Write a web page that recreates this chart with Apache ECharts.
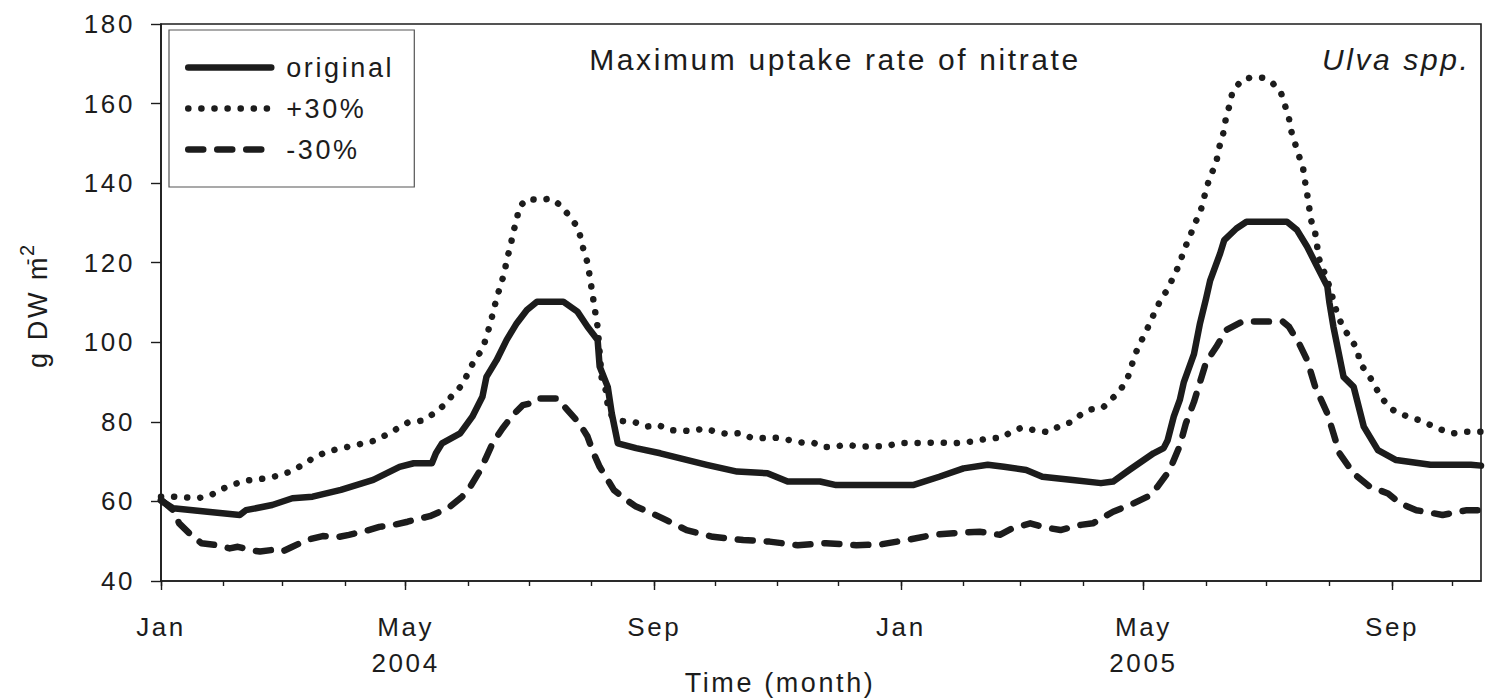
<!DOCTYPE html>
<html>
<head>
<meta charset="utf-8">
<script src="https://cdn.jsdelivr.net/npm/echarts@6/dist/echarts.min.js"></script>
<style>
  html, body { margin: 0; padding: 0; background: #ffffff; }
  #chart { width: 1486px; height: 698px; letter-spacing: 2.6px; }
</style>
</head>
<body>
<div id="chart"></div>
<script>
// Simulated Ulva biomass (g DW m^-2); x values are days counted from 1 Jan 2004 (day 0).
const originalDays = [0, 6, 23, 39, 42, 55, 65, 75, 89, 105, 118, 125, 134, 136, 139, 148, 154, 159, 161, 166,
  171, 176, 181, 186, 199, 206, 211, 216, 217, 221, 223, 226, 235, 247, 257, 270, 285, 300, 310, 326,
  334, 359, 372, 385, 397, 409, 417, 428, 436, 451, 465, 471, 479, 491, 496, 498, 501, 504, 506, 511,
  514, 517, 519, 524, 526, 532, 537, 557, 562, 567, 572, 577, 578, 580, 585, 590, 595, 602, 611, 628,
  648, 653];
const originalValues = [60.2, 58.3, 57.4, 56.6, 57.8, 59.1, 60.8, 61.2, 62.9, 65.4, 68.7, 69.6, 69.6, 72.1, 74.6, 77.1, 81.3, 86.3, 91.3, 95.5,
  100.6, 104.8, 108.1, 110.2, 110.2, 107.7, 103.9, 100.6, 93.9, 88.8, 82.1, 74.6, 73.4, 72.1, 70.8, 69.2, 67.5, 67.1, 65.0, 65.0,
  64.1, 64.1, 64.1, 66.2, 68.3, 69.2, 68.7, 67.9, 66.2, 65.4, 64.6, 65.0, 67.9, 72.1, 73.4, 75.4, 81.3, 85.5, 90.0, 97.0,
  104.8, 111.0, 115.5, 122.4, 125.7, 128.6, 130.3, 130.3, 128.2, 124.0, 119.0, 114.0, 110.0, 103.9, 91.3, 88.8, 78.8, 72.9, 70.4, 69.2,
  69.2, 69.0];

const plus30Days = [0, 6, 18, 24, 30, 41, 52, 59, 65, 70, 75, 82, 94, 106, 112, 122, 129, 135, 140, 144,
  149, 152, 155, 159, 161, 163, 166, 168, 170, 171, 173, 174, 176, 177, 181, 187, 193, 198, 202, 206,
  208, 209, 211, 212, 213, 214, 215, 216, 218, 220, 221, 223, 228, 234, 240, 246, 252, 263, 269, 275,
  281, 287, 292, 299, 305, 311, 317, 323, 327, 333, 339, 346, 352, 359, 365, 371, 377, 385, 391, 398,
  404, 409, 416, 420, 426, 432, 439, 444, 450, 455, 460, 466, 470, 474, 478, 480, 482, 485, 488, 491,
  494, 498, 501, 504, 506, 509, 511, 514, 517, 519, 522, 523, 525, 526, 527, 529, 530, 535, 540, 545,
  550, 554, 556, 558, 559, 561, 563, 565, 566, 567, 568, 569, 571, 572, 573, 575, 577, 579, 582, 585,
  589, 592, 593, 597, 600, 603, 607, 611, 616, 622, 628, 634, 639, 646, 653];
const plus30Values = [61.2, 61.2, 60.8, 61.4, 63.1, 65.2, 65.8, 66.6, 67.7, 69.2, 70.8, 72.5, 73.9, 75.3, 76.9, 79.8, 80.3, 82.1, 84.2, 86.6,
  89.3, 92.4, 95.5, 98.2, 101.4, 104.9, 111.0, 114.4, 117.6, 120.8, 124.2, 127.4, 130.6, 133.9, 136.0, 135.8, 136.1, 134.3, 131.7, 129.0,
  125.7, 123.2, 120.0, 116.9, 113.6, 110.3, 107.0, 103.9, 91.0, 88.0, 84.2, 81.5, 80.2, 80.0, 78.8, 79.2, 77.9, 77.7, 78.4, 77.4,
  76.9, 77.2, 76.0, 75.9, 76.0, 75.4, 74.8, 74.7, 73.7, 73.7, 74.3, 73.7, 73.9, 73.9, 74.7, 74.7, 74.7, 74.8, 74.6, 74.8,
  75.3, 75.8, 76.0, 77.3, 78.6, 77.9, 77.4, 78.8, 79.9, 81.8, 83.1, 83.6, 85.6, 87.6, 90.7, 93.9, 97.1, 100.4, 103.5, 106.9,
  110.1, 113.4, 116.6, 119.8, 123.2, 126.5, 129.5, 132.4, 138.3, 141.8, 144.8, 148.3, 151.3, 153.8, 157.0, 160.1, 163.0, 166.1, 166.6, 166.5,
  165.1, 162.8, 159.6, 156.3, 153.3, 150.0, 146.8, 143.7, 140.3, 137.3, 133.9, 130.6, 127.4, 124.0, 120.8, 118.2, 115.6, 112.3, 106.9, 103.5,
  100.6, 98.0, 94.7, 92.2, 89.5, 86.7, 84.0, 82.4, 81.5, 80.5, 79.2, 77.9, 77.1, 77.5, 77.5];

const minus30Days = [0, 6, 9, 14, 20, 28, 34, 38, 44, 49, 55, 60, 65, 72, 80, 87, 93, 100, 108, 115,
  122, 128, 133, 138, 143, 149, 153, 158, 161, 164, 169, 174, 179, 183, 186, 196, 201, 207, 211, 214,
  217, 221, 224, 229, 235, 243, 250, 260, 273, 288, 301, 315, 329, 344, 356, 369, 382, 392, 405, 415,
  421, 430, 437, 445, 455, 461, 471, 481, 488, 493, 499, 504, 507, 511, 514, 517, 522, 527, 535, 555,
  558, 563, 567, 571, 577, 580, 583, 590, 598, 607, 613, 621, 634, 646, 653];
const minus30Values = [60.4, 57.8, 54.5, 52.0, 49.5, 49.0, 48.2, 48.6, 47.8, 47.4, 47.8, 47.4, 48.6, 50.3, 51.3, 51.0, 51.6, 52.4, 53.6, 54.1,
  54.9, 55.7, 56.3, 57.4, 58.7, 61.2, 63.7, 67.9, 71.2, 74.6, 78.4, 81.7, 84.2, 84.7, 85.9, 85.9, 83.0, 79.6, 76.3, 72.1,
  68.7, 65.4, 62.9, 60.8, 58.7, 57.0, 55.3, 52.8, 51.1, 50.3, 49.9, 49.0, 49.5, 49.0, 49.2, 50.3, 51.6, 52.0, 52.4, 51.6,
  53.2, 54.5, 53.5, 52.8, 54.1, 54.5, 57.4, 59.5, 61.2, 63.7, 67.9, 74.0, 79.6, 85.0, 90.0, 95.0, 98.8, 103.1, 105.2, 105.2,
  103.9, 99.7, 95.5, 88.8, 82.1, 77.1, 72.1, 67.0, 63.7, 62.0, 59.5, 57.8, 56.6, 57.8, 57.8];

const seriesNames = ['original', '+30%', '-30%'];
const monthNames = ['Jan', 'Feb', 'Mar', 'Apr', 'May', 'Jun', 'Jul', 'Aug', 'Sep', 'Oct', 'Nov', 'Dec'];
const labeledMonths = ['Jan', 'May', 'Sep'];
const yearLabelMonth = 'May';
const yTicks = [40, 60, 80, 100, 120, 140, 160, 180];

const chartTitle = 'Maximum uptake rate of nitrate';
const speciesLabel = 'Ulva spp.';

const START = new Date(2004, 0, 1);
const END = new Date(2005, 9, 15);
const dayToTime = d => new Date(2004, 0, 1 + d).getTime();
const pairs = (days, vals) => days.map((d, i) => [dayToTime(d), vals[i]]);

// first day of every month in the plotted span
const monthStarts = [];
for (let y = 2004; y <= 2005; y++) {
  for (let m = 0; m < 12; m++) {
    const t = new Date(y, m, 1).getTime();
    if (t <= END.getTime()) monthStarts.push(t);
  }
}
const labeledStarts = monthStarts.filter(t => labeledMonths.includes(monthNames[new Date(t).getMonth()]));

const INK = '#1c1c1c';
const FONT = '"Liberation Sans", Arial, Helvetica, sans-serif';

const chart = echarts.init(document.getElementById('chart'), null, { renderer: 'svg' });

// timestamps on a numeric axis so month ticks can be placed exactly
const baseX = {
  type: 'value',
  min: START.getTime(),
  max: END.getTime(),
  scale: true,
  position: 'bottom',
  splitLine: { show: false }
};

chart.setOption({
  animation: false,
  backgroundColor: '#ffffff',
  textStyle: { fontFamily: FONT, color: INK },
  grid: {
    left: 161, right: 5, top: 24, bottom: 117,
    containLabel: false, outerBoundsMode: 'none',
    show: true, borderColor: INK, borderWidth: 1.6, backgroundColor: 'transparent'
  },
  title: [
    { text: chartTitle, left: 830, top: 39, textAlign: 'center',
      textStyle: { fontFamily: FONT, fontSize: 30, fontWeight: 'normal', color: INK } },
    { text: speciesLabel, right: 34, top: 39,
      textStyle: { fontFamily: FONT, fontSize: 30, fontWeight: 'normal', fontStyle: 'italic', color: INK } }
  ],
  legend: {
    orient: 'vertical',
    left: 169, top: 30,
    padding: [24, 41, 24, 16],
    itemWidth: 83, itemHeight: 14, itemGap: 14,
    borderColor: '#555555', borderWidth: 1.2,
    backgroundColor: '#ffffff',
    data: seriesNames,
    textStyle: { fontFamily: FONT, fontSize: 27, lineHeight: 27, color: INK, padding: [0, 0, 0, 10] },
    lineStyle: { width: 6.5, cap: 'round' },
    itemStyle: { color: 'rgba(0,0,0,0)', borderWidth: 0, opacity: 0 },
    selectedMode: false
  },
  xAxis: [
    Object.assign({}, baseX, {
      axisLine: { show: true, onZero: false, lineStyle: { color: INK, width: 1.6 } },
      axisTick: { show: true, inside: false, length: 5, lineStyle: { color: INK, width: 1.4 }, customValues: monthStarts },
      axisLabel: { show: false }
    }),
    Object.assign({}, baseX, {
      name: 'Time (month)',
      nameLocation: 'middle',
      nameGap: 88,
      nameMoveOverlap: false,
      nameTextStyle: { fontFamily: FONT, fontSize: 27, color: INK, padding: [0, 82, 0, 0] },
      axisLine: { show: false, onZero: false },
      axisTick: { show: true, inside: false, length: 9, lineStyle: { color: INK, width: 1.4 }, customValues: labeledStarts },
      axisLabel: {
        show: true, customValues: labeledStarts, margin: 28,
        fontFamily: FONT, fontSize: 26, lineHeight: 36, color: INK,
        formatter: v => {
          const d = new Date(v);
          const mn = monthNames[d.getMonth()];
          return mn === yearLabelMonth ? mn + '\n' + d.getFullYear() : mn;
        }
      }
    })
  ],
  yAxis: {
    type: 'value',
    min: yTicks[0], max: yTicks[yTicks.length - 1], interval: 20,
    name: '{n|g DW m}{s|-2}',
    nameLocation: 'middle',
    nameRotate: 90,
    nameGap: 110,
    nameMoveOverlap: false,
    nameTextStyle: {
      rich: {
        n: { fontFamily: FONT, fontSize: 27, lineHeight: 34, verticalAlign: 'bottom', color: INK },
        s: { fontFamily: FONT, fontSize: 20, lineHeight: 20, verticalAlign: 'top', color: INK }
      }
    },
    splitLine: { show: false },
    axisLine: { show: true, lineStyle: { color: INK, width: 1.6 } },
    axisTick: { show: true, inside: false, length: 10, lineStyle: { color: INK, width: 1.4 } },
    axisLabel: { margin: 26, fontFamily: FONT, fontSize: 26, color: INK }
  },
  series: [
    {
      name: seriesNames[1], type: 'line', xAxisIndex: 0,
      data: pairs(plus30Days, plus30Values),
      symbol: 'none', showSymbol: false,
      lineStyle: { color: INK, width: 6.5, type: [0.1, 13], cap: 'round', join: 'round' },
      itemStyle: { color: INK }, z: 2
    },
    {
      name: seriesNames[2], type: 'line', xAxisIndex: 0,
      data: pairs(minus30Days, minus30Values),
      symbol: 'none', showSymbol: false,
      lineStyle: { color: INK, width: 6.5, type: [15, 14], cap: 'round', join: 'round' },
      itemStyle: { color: INK }, z: 3
    },
    {
      name: seriesNames[0], type: 'line', xAxisIndex: 0,
      data: pairs(originalDays, originalValues),
      symbol: 'none', showSymbol: false,
      lineStyle: { color: INK, width: 6.5, type: 'solid', cap: 'round', join: 'round' },
      itemStyle: { color: INK }, z: 4
    }
  ]
});
</script>
</body>
</html>
